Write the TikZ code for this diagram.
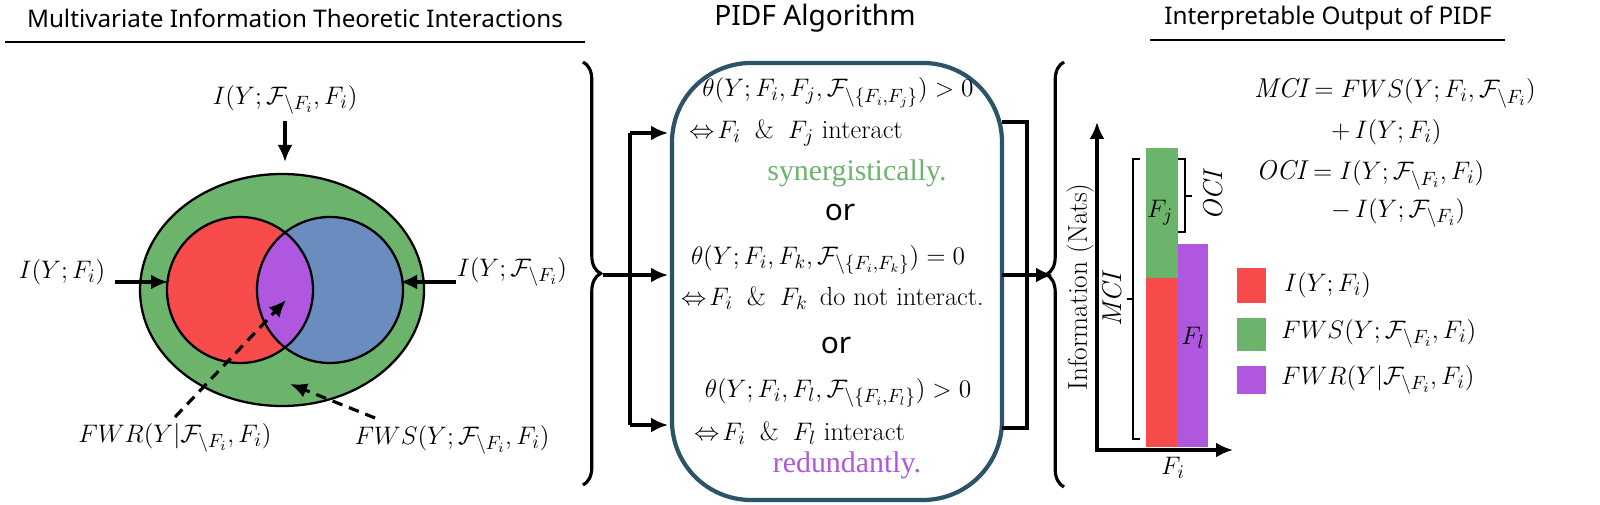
\documentclass[tikz,border=0pt]{standalone}
\usepackage{amsmath,amssymb}
\usepackage{fontspec}
\setsansfont{Noto Sans}
\newfontfamily\serifcol{Liberation Serif}
\usetikzlibrary{arrows.meta,decorations.pathreplacing}
\definecolor{fwsgreen}{HTML}{6CB46C}
\definecolor{infored}{HTML}{F84B4B}
\definecolor{restblue}{HTML}{6B8CBF}
\definecolor{fwrpurple}{HTML}{B057DF}
\definecolor{boxteal}{HTML}{2B5468}
\tikzset{
  title/.style={font=\sffamily\fontsize{13.8}{16}\selectfont},
  lbl/.style={font=\fontsize{15.5}{18}\selectfont},
  alg/.style={font=\fontsize{15}{18}\selectfont},
  flow/.style={line width=1.8pt,-{Latex[length=3.4mm,width=3mm]}},
  dflow/.style={flow,dashed,dash pattern=on 6pt off 4pt},
  bar/.style={line width=1.4pt},
}
\begin{document}
\begin{tikzpicture}[x=0.2mm,y=-0.2mm]
\useasboundingbox (0,0) rectangle (1600,505);
% titles
\node[title] (t1) at (295,18) {Multivariate Information Theoretic Interactions};
\draw[line width=0.8pt] (5,42) -- (585,42);
\node[title,font=\sffamily\fontsize{16}{18}\selectfont] (t2) at (815,18) {PIDF Algorithm};
\node[title] (t3) at (1328,18) {Interpretable Output of PIDF};
\draw[line width=0.8pt] (1150,40) -- (1505,40);
% venn diagram
\fill[fwsgreen] (282,290) ellipse [x radius=142, y radius=116];
\fill[infored] (240,290) circle [radius=73];
\fill[restblue] (330,290) circle [radius=73];
\begin{scope}
  \clip (240,290) circle [radius=73];
  \fill[fwrpurple] (330,290) circle [radius=73];
\end{scope}
\draw[line width=1.3pt] (282,290) ellipse [x radius=142, y radius=116];
\draw[line width=1.3pt] (240,290) circle [radius=73] (330,290) circle [radius=73];
\node[lbl] (itop) at (285,100) {$I(Y;\mathcal{F}_{\setminus F_i},F_i)$};
\coordinate (ttop) at (285,162);
\draw[flow] (itop.south) -- (ttop);
\node[lbl] (ileft) at (62,272) {$I(Y;F_i)$};
\coordinate (tleft) at (168,282);
\draw[flow] (115,282) -- (tleft);
\node[lbl] (iright) at (512,272) {$I(Y;\mathcal{F}_{\setminus F_i})$};
\coordinate (tright) at (400,282);
\draw[flow] (456,282) -- (tright);
\node[lbl] (fwr) at (175,438) {$FWR(Y|\mathcal{F}_{\setminus F_i},F_i)$};
\coordinate (tfwr) at (286,300);
\draw[dflow] (fwr.north) -- (tfwr);
\node[lbl] (fws) at (452,440) {$FWS(Y;\mathcal{F}_{\setminus F_i},F_i)$};
\coordinate (tfws) at (290,384);
\draw[dflow] (375,418) -- (tfws);
% brace into algorithm
\draw[line width=1.8pt,decorate,decoration={brace,amplitude=10pt}] (583,62) -- (583,485);
\draw[line width=1.8pt] (630,133) -- (630,425);
\draw[flow] (603,275) -- (668,275);
\draw[flow] (630,133) -- (668,133);
\draw[flow] (630,425) -- (668,425);
% algorithm box
\draw[boxteal,line width=2.4pt,rounded corners=45] (672,63) rectangle (1002,500);
\node[alg] (c1) at (838,93) {$\theta(Y;F_i,F_j,\mathcal{F}_{\setminus\{F_i,F_j\}})>0$};
\node[alg,anchor=west] (c1b) at (683,133) {$\Leftrightarrow\!F_i\;\;\&\;\;F_j$ interact};
\node[font=\serifcol\fontsize{17}{19}\selectfont,text=fwsgreen] (syn) at (857,173) {synergistically.};
\node[font=\sffamily\fontsize{17}{19}\selectfont] (or1) at (840,212) {or};
\node[alg] (c2) at (828,260) {$\theta(Y;F_i,F_k,\mathcal{F}_{\setminus\{F_i,F_k\}})=0$};
\node[alg,anchor=west] (c2b) at (675,298) {$\Leftrightarrow\!F_i\;\;\&\;\;F_k$\, do not interact.};
\node[font=\sffamily\fontsize{17}{19}\selectfont] (or2) at (836,345) {or};
\node[alg] (c3) at (838,393) {$\theta(Y;F_i,F_l,\mathcal{F}_{\setminus\{F_i,F_l\}})>0$};
\node[alg,anchor=west] (c3b) at (688,433) {$\Leftrightarrow\!F_i\;\;\&\;\;F_l$ interact};
\node[font=\serifcol\fontsize{17}{19}\selectfont,text=fwrpurple] (red) at (847,465) {redundantly.};
% merge out of box
\draw[line width=1.8pt] (1002,122) -- (1027,122) -- (1027,428) -- (1002,428);
\draw[flow] (1002,275) -- (1053,275);
\draw[line width=1.8pt,decorate,decoration={brace,amplitude=10pt}] (1064,487) -- (1064,62);
% bar chart
\fill[fwsgreen] (1146,148) rectangle (1178,278);
\fill[infored] (1146,278) rectangle (1178,447);
\fill[fwrpurple] (1178,244) rectangle (1208,447);
\draw[flow] (1097,452) -- (1097,122);
\draw[flow] (1095,450) -- (1233,450);
\node[font=\fontsize{15.5}{18}\selectfont,rotate=90] (ylab) at (1080,287) {Information (Nats)};
\node[lbl] (xlab) at (1173,468) {$F_i$};
\node[lbl] (fj) at (1160,213) {$F_j$};
\node[lbl] (fl) at (1193,338) {$F_l$};
\draw[bar] (1140,159) -- (1133,159) -- (1133,439) -- (1140,439) (1133,299) -- (1127,299);
\draw[bar] (1178,159) -- (1185,159) -- (1185,232) -- (1178,232) (1185,196) -- (1192,196);
\node[lbl,rotate=90] (mci) at (1112,300) {$\mathit{MCI}$};
\node[lbl,rotate=90] (oci) at (1213,196) {$\mathit{OCI}$};
% formulas
\node[lbl,anchor=west] (f1) at (1248,93) {$\mathit{MCI}=FWS(Y;F_i,\mathcal{F}_{\setminus F_i})$};
\node[lbl,anchor=west] (f2) at (1325,132) {$+\,I(Y;F_i)$};
\node[lbl,anchor=west] (f3) at (1250,175) {$\mathit{OCI}=I(Y;\mathcal{F}_{\setminus F_i},F_i)$};
\node[lbl,anchor=west] (f4) at (1325,213) {$-\,I(Y;\mathcal{F}_{\setminus F_i})$};
% legend
\fill[infored] (1237,268) rectangle (1266,303);
\fill[fwsgreen] (1237,318) rectangle (1266,351);
\fill[fwrpurple] (1237,366) rectangle (1266,394);
\node[lbl,anchor=west] (l1) at (1278,285) {$I(Y;F_i)$};
\node[lbl,anchor=west] (l2) at (1275,334) {$FWS(Y;\mathcal{F}_{\setminus F_i},F_i)$};
\node[lbl,anchor=west] (l3) at (1275,380) {$FWR(Y|\mathcal{F}_{\setminus F_i},F_i)$};
\end{tikzpicture}
\end{document}
